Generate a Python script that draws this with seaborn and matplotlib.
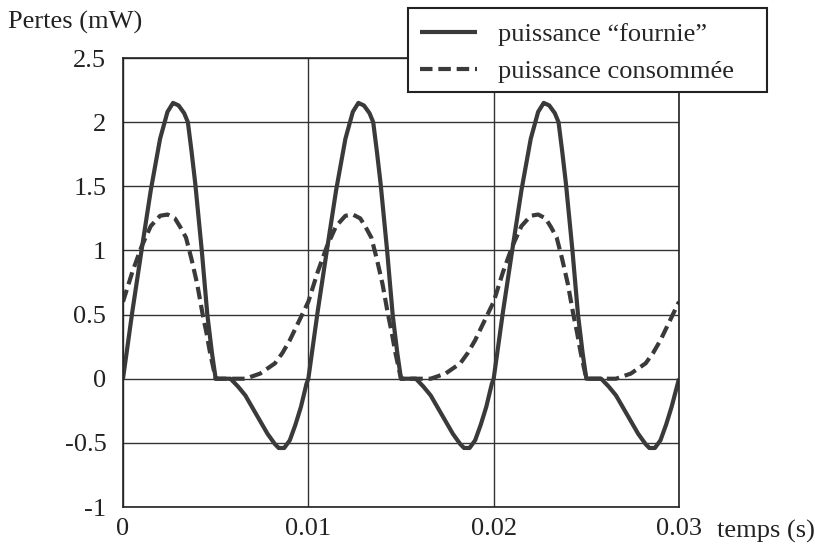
import numpy as np
import pandas as pd
import matplotlib
matplotlib.use("Agg")
import matplotlib.pyplot as plt
from matplotlib.patches import Rectangle
import seaborn as sns

# === values (three periods of 0.01 s) ===
t_fournie = [
    0.0000, 0.0005, 0.0010, 0.0015, 0.0020, 0.0024, 0.0027, 0.0030, 0.0033, 0.0035,
    0.0037, 0.0039, 0.00425, 0.00455, 0.0048, 0.0050, 0.0058, 0.0062, 0.0066, 0.0070,
    0.0074, 0.0078, 0.0082, 0.0084, 0.0087, 0.0090, 0.0093, 0.0096, 0.0099,
    0.0100, 0.0105, 0.0110, 0.0115, 0.0120, 0.0124, 0.0127, 0.0130, 0.0133, 0.0135,
    0.0137, 0.0139, 0.01425, 0.01455, 0.0148, 0.0150, 0.0158, 0.0162, 0.0166, 0.0170,
    0.0174, 0.0178, 0.0182, 0.0184, 0.0187, 0.0190, 0.0193, 0.0196, 0.0199,
    0.0200, 0.0205, 0.0210, 0.0215, 0.0220, 0.0224, 0.0227, 0.0230, 0.0233, 0.0235,
    0.0237, 0.0239, 0.02425, 0.02455, 0.0248, 0.0250, 0.0258, 0.0262, 0.0266, 0.0270,
    0.0274, 0.0278, 0.0282, 0.0284, 0.0287, 0.0290, 0.0293, 0.0296, 0.0300,
]
p_fournie = [
    0.00, 0.52, 1.00, 1.47, 1.87, 2.08, 2.15, 2.13, 2.07, 2.00,
    1.77, 1.52, 1.00, 0.50, 0.20, 0.00, 0.00, -0.06, -0.13, -0.23,
    -0.33, -0.43, -0.51, -0.54, -0.54, -0.48, -0.36, -0.22, -0.04,
    0.00, 0.52, 1.00, 1.47, 1.87, 2.08, 2.15, 2.13, 2.07, 2.00,
    1.77, 1.52, 1.00, 0.50, 0.20, 0.00, 0.00, -0.06, -0.13, -0.23,
    -0.33, -0.43, -0.51, -0.54, -0.54, -0.48, -0.36, -0.22, -0.04,
    0.00, 0.52, 1.00, 1.47, 1.87, 2.08, 2.15, 2.13, 2.07, 2.00,
    1.77, 1.52, 1.00, 0.50, 0.20, 0.00, 0.00, -0.06, -0.13, -0.23,
    -0.33, -0.43, -0.51, -0.54, -0.54, -0.48, -0.36, -0.22, 0.00,
]

t_consommee = [
    0.0000, 0.0005, 0.0010, 0.0015, 0.0020, 0.0024, 0.0028, 0.0031, 0.0034, 0.0037,
    0.0040, 0.0043, 0.0045, 0.0047, 0.0050, 0.0060, 0.0066, 0.0070, 0.0074, 0.0078,
    0.0082, 0.0086, 0.0090, 0.0094, 0.0098,
    0.0100, 0.0105, 0.0110, 0.0115, 0.0120, 0.0124, 0.0128, 0.0131, 0.0134, 0.0137,
    0.0140, 0.0143, 0.0145, 0.0147, 0.0150, 0.0160, 0.0166, 0.0170, 0.0174, 0.0178,
    0.0182, 0.0186, 0.0190, 0.0194, 0.0198,
    0.0200, 0.0205, 0.0210, 0.0215, 0.0220, 0.0224, 0.0228, 0.0231, 0.0234, 0.0237,
    0.0240, 0.0243, 0.0245, 0.0247, 0.0250, 0.0260, 0.0266, 0.0270, 0.0274, 0.0278,
    0.0282, 0.0286, 0.0290, 0.0294, 0.0298, 0.0300,
]
p_consommee = [
    0.60, 0.83, 1.03, 1.19, 1.27, 1.28, 1.25, 1.18, 1.10, 0.93,
    0.74, 0.50, 0.36, 0.20, 0.00, 0.00, 0.00, 0.02, 0.04, 0.08,
    0.12, 0.20, 0.30, 0.42, 0.54,
    0.60, 0.83, 1.03, 1.19, 1.27, 1.28, 1.25, 1.18, 1.10, 0.93,
    0.74, 0.50, 0.36, 0.20, 0.00, 0.00, 0.00, 0.02, 0.04, 0.08,
    0.12, 0.20, 0.30, 0.42, 0.54,
    0.60, 0.83, 1.03, 1.19, 1.27, 1.28, 1.25, 1.18, 1.10, 0.93,
    0.74, 0.50, 0.36, 0.20, 0.00, 0.00, 0.00, 0.02, 0.04, 0.08,
    0.12, 0.20, 0.30, 0.42, 0.54, 0.60,
]

x_ticks = [0, 0.01, 0.02, 0.03]
x_ticklabels = ["0", "0.01", "0.02", "0.03"]
y_ticks = [-1, -0.5, 0, 0.5, 1, 1.5, 2, 2.5]
y_ticklabels = ["-1", "-0.5", "0", "0.5", "1", "1.5", "2", "2.5"]

labels = ["puissance \u201cfournie\u201d", "puissance consomm\u00e9e"]

df = pd.concat([
    pd.DataFrame({"t": t_fournie, "p": p_fournie, "serie": labels[0]}),
    pd.DataFrame({"t": t_consommee, "p": p_consommee, "serie": labels[1]}),
])

sns.set_style("white")
plt.rcParams["font.family"] = ["Liberation Serif", "DejaVu Serif"]
fs = 19

ink = "#3a3a3a"
W, H = 815, 548
fig = plt.figure(figsize=(W / 100, H / 100), dpi=100)
ax = fig.add_axes([123 / W, 1 - 507 / H, (679 - 123) / W, (507 - 58) / H])

sns.lineplot(data=df, x="t", y="p", hue="serie", style="serie",
             palette=[ink, ink], dashes=[(1, 0), (3, 1.4)],
             linewidth=3, sort=False, estimator=None, ax=ax)

ax.set_xlim(0, 0.03)
ax.set_ylim(-1, 2.5)
ax.set_xticks(x_ticks)
ax.set_xticklabels(x_ticklabels)
ax.set_yticks(y_ticks)
ax.set_yticklabels(y_ticklabels)
ax.tick_params(length=0, labelsize=fs, colors="#222222")
ax.tick_params(axis="y", pad=12)
ax.tick_params(axis="x", pad=8)
ax.grid(True, color="#333333", linewidth=1)
ax.set_axisbelow(True)
for s in ax.spines.values():
    s.set_color("#222222")
    s.set_linewidth(1.2)
ax.set_xlabel("")
ax.set_ylabel("")

fig.text(8 / W, 1 - 22 / H, "Pertes (mW)", ha="left", va="center",
         fontsize=fs, color="#222222")
fig.text(717 / W, 1 - 531 / H, "temps (s)", ha="left", va="center",
         fontsize=fs, color="#222222")

# legend box, drawn over the top of the plot frame
box = Rectangle((408 / W, 1 - 92 / H), (767 - 408) / W, (92 - 8) / H,
                transform=fig.transFigure, facecolor="white",
                edgecolor="#222222", linewidth=1.5, zorder=5)
fig.add_artist(box)

handles, _ = ax.get_legend_handles_labels()
ax.get_legend().remove()
leg = fig.legend(handles=handles, labels=labels, loc="upper left",
                 bbox_to_anchor=(420 / W, 1 - 23 / H), bbox_transform=fig.transFigure,
                 frameon=False, fontsize=fs, handlelength=2.15,
                 handletextpad=0.8, labelspacing=0.49, borderpad=0,
                 borderaxespad=0)
leg.set_zorder(6)

fig.savefig("out.png", dpi=100, facecolor="white")
